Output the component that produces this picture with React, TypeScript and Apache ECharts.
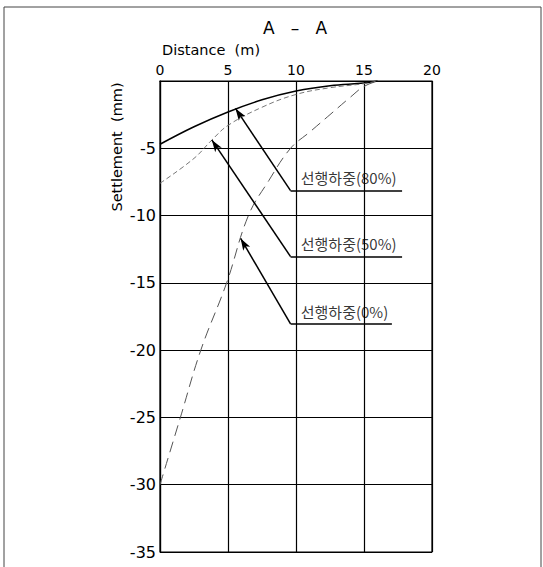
import React, { useEffect, useRef } from "react";
import * as echarts from "echarts";

const xTicks = [0, 5, 10, 15, 20];
const yTicks = [0, -5, -10, -15, -20, -25, -30, -35];

const curve80X = [0, 2.5, 5, 7.5, 10, 12.5, 15, 16];
const curve80Y = [-4.7, -3.4, -2.3, -1.4, -0.75, -0.35, -0.15, 0];

const curve50X = [0, 2.5, 3.8, 5, 7.5, 10, 12.5, 15, 16];
const curve50Y = [-7.6, -5.75, -4.4, -3.3, -1.95, -1.0, -0.5, -0.2, 0];

const curve0X = [0, 1.5, 3, 4.9, 6.5, 8, 9.6, 11, 12.5, 14, 15, 16];
const curve0Y = [-30, -25, -20, -15, -10, -7.4, -5, -3.8, -2.5, -1.2, -0.4, 0];

const annotLabels = ["선행하중(80%)", "선행하중(50%)", "선행하중(0%)"];
const annotTipX = [5.55, 3.81, 5.93];
const annotTipY = [-2.04, -4.38, -11.7];
const annotBendX = [9.6, 9.6, 9.6];
const annotBendY = [-8.15, -13.05, -18.05];
const annotEndX = [17.8, 17.8, 17.05];

const zip = (xs: number[], ys: number[]) => xs.map((x, i) => [x, ys[i]]);

export default function App() {
  const ref = useRef<HTMLDivElement>(null);
  useEffect(() => {
    if (!ref.current) return;
    const chart = echarts.init(ref.current, null, { renderer: "svg" });
    const font = "DejaVu Sans, Verdana, sans-serif";
    const markData: any[] = [];
    annotLabels.forEach((_, i) => {
      markData.push([
        { coord: [annotTipX[i], annotTipY[i]], symbol: "arrow" },
        { coord: [annotBendX[i], annotBendY[i]], symbol: "none" },
      ]);
      markData.push([
        { coord: [annotBendX[i], annotBendY[i]], symbol: "none" },
        { coord: [annotEndX[i], annotBendY[i]], symbol: "none" },
      ]);
    });
    chart.setOption({
      animation: false,
      backgroundColor: "#fff",
      grid: {
        left: 160,
        right: 111,
        top: 81,
        bottom: 15,
        show: true,
        borderColor: "#000",
        borderWidth: 1.2,
      },
      graphic: [
        {
          type: "rect",
          shape: { x: 4, y: 7, width: 537, height: 600 },
          style: { fill: "none", stroke: "#444", lineWidth: 1 },
          silent: true,
        },
        {
          type: "text",
          x: 295,
          y: 28,
          style: {
            text: "A   –   A",
            fontSize: 17,
            fontFamily: font,
            fill: "#000",
            align: "center",
            verticalAlign: "middle",
          },
        },
        {
          type: "text",
          x: 162,
          y: 50,
          style: {
            text: "Distance  (m)",
            fontSize: 14.5,
            fontFamily: font,
            fill: "#000",
            align: "left",
            verticalAlign: "middle",
          },
        },
        {
          type: "text",
          x: 117,
          y: 147,
          rotation: Math.PI / 2,
          style: {
            text: "Settlement  (mm)",
            fontSize: 14.5,
            fontFamily: font,
            fill: "#000",
            align: "center",
            verticalAlign: "middle",
          },
        },
      ],
      xAxis: {
        type: "value",
        position: "top",
        min: xTicks[0],
        max: xTicks[xTicks.length - 1],
        interval: 5,
        axisLine: { show: true, lineStyle: { color: "#000", width: 1.2 } },
        axisTick: { show: false },
        axisLabel: {
          color: "#000",
          fontSize: 14,
          fontFamily: font,
          margin: 4,
        },
        splitLine: { show: true, lineStyle: { color: "#000", width: 1.2 } },
      },
      yAxis: {
        type: "value",
        min: yTicks[yTicks.length - 1],
        max: yTicks[0],
        interval: 5,
        axisLine: { show: true, lineStyle: { color: "#000", width: 1.2 } },
        axisTick: { show: false },
        axisLabel: {
          color: "#000",
          fontSize: 16,
          fontFamily: font,
          margin: 4,
          formatter: (v: number) => (v === 0 ? "" : String(v)),
        },
        splitLine: { show: true, lineStyle: { color: "#000", width: 1.2 } },
      },
      series: [
        {
          type: "line",
          name: "80%",
          data: zip(curve80X, curve80Y),
          smooth: 0.4,
          symbol: "none",
          lineStyle: { color: "#000", width: 1.5 },
        },
        {
          type: "line",
          name: "50%",
          data: zip(curve50X, curve50Y),
          smooth: 0.4,
          symbol: "none",
          lineStyle: { color: "#777", width: 1, type: [5, 3] },
        },
        {
          type: "line",
          name: "0%",
          data: zip(curve0X, curve0Y),
          smooth: 0.4,
          symbol: "none",
          lineStyle: { color: "#555", width: 1, type: [11, 6] },
        },
        {
          type: "scatter",
          name: "labels",
          symbolSize: 0,
          data: annotLabels.map((t, i) => [annotBendX[i] + 0.75, annotBendY[i] + 0.95, t]),
          label: {
            show: true,
            position: "right",
            distance: 0,
            formatter: (p: any) => p.data[2],
            fontSize: 15,
            fontFamily: "Noto Sans CJK KR, sans-serif",
            color: "#000",
          },
          markLine: {
            silent: true,
            symbolSize: [6, 12],
            label: { show: false },
            lineStyle: { color: "#000", width: 1.5, type: "solid" },
            data: markData,
          },
        },
      ],
    });
    return () => chart.dispose();
  }, []);
  return (
    <div
      ref={ref}
      style={{ position: "fixed", left: 0, top: 0, width: 543, height: 567 }}
    />
  );
}
